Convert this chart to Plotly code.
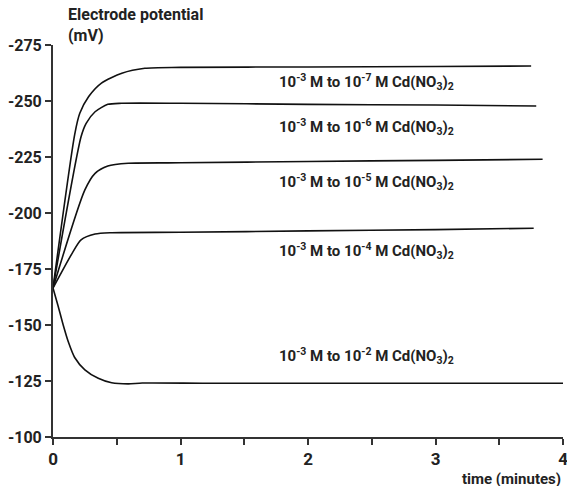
import plotly.graph_objects as go

# Data (time in minutes, potential in mV)
t_e7 = [0, 0.17, 0.21, 0.28, 0.38, 0.54, 0.72, 1.0, 2.0, 3.0, 3.75]
v_e7 = [-166.5, -235, -244.5, -252, -258, -262.4, -264.6, -265, -265.2, -265.4, -265.6]

t_e6 = [0, 0.22, 0.26, 0.33, 0.43, 0.54, 1.0, 2.0, 3.0, 3.79]
v_e6 = [-166.5, -234, -240, -245.2, -248.5, -249, -249, -248.5, -248.2, -247.8]

t_e5 = [0, 0.25, 0.33, 0.43, 0.59, 1.0, 2.0, 3.0, 3.84]
v_e5 = [-166.5, -210.3, -217.7, -221, -222.2, -222.4, -223, -223.5, -224]

t_e4 = [0, 0.15, 0.22, 0.33, 0.46, 1.0, 2.0, 3.0, 3.77]
v_e4 = [-166.5, -182, -188, -190.6, -191.2, -191.4, -192, -192.6, -193.2]

t_e2 = [0, 0.04, 0.08, 0.12, 0.17, 0.25, 0.355, 0.46, 0.59, 0.70, 1.2, 2.0, 3.0, 4.0]
v_e2 = [-166.5, -158.5, -150, -142.5, -135.5, -130, -126.2, -124.2, -123.7, -124.1, -124, -124, -124, -124]

labels = [
    "10<sup>-3</sup> M to 10<sup>-7</sup> M Cd(NO<sub>3</sub>)<sub>2</sub>",
    "10<sup>-3</sup> M to 10<sup>-6</sup> M Cd(NO<sub>3</sub>)<sub>2</sub>",
    "10<sup>-3</sup> M to 10<sup>-5</sup> M Cd(NO<sub>3</sub>)<sub>2</sub>",
    "10<sup>-3</sup> M to 10<sup>-4</sup> M Cd(NO<sub>3</sub>)<sub>2</sub>",
    "10<sup>-3</sup> M to 10<sup>-2</sup> M Cd(NO<sub>3</sub>)<sub>2</sub>",
]
label_x = [1.76, 1.76, 1.76, 1.76, 1.76]
label_y = [-258.5, -238.5, -213.8, -183, -136]

x_tickvals = [0, 0.5, 1, 1.5, 2, 2.5, 3, 3.5, 4]
x_ticktext = ["0", "", "1", "", "2", "", "3", "", "4"]
y_tickvals = [-100, -125, -150, -175, -200, -225, -250, -275]

FONT = "Roboto, Arial, sans-serif"
TXT = "#222222"

fig = go.Figure()
for tx, vy in [(t_e7, v_e7), (t_e6, v_e6), (t_e5, v_e5), (t_e4, v_e4), (t_e2, v_e2)]:
    fig.add_trace(go.Scatter(x=tx, y=vy, mode="lines",
                             line=dict(color="#111111", width=1.6, shape="spline", smoothing=0.7),
                             showlegend=False, hoverinfo="skip"))

for txt, lx, ly in zip(labels, label_x, label_y):
    fig.add_annotation(x=lx, y=ly, xref="x", yref="y", text="<b>" + txt + "</b>",
                       showarrow=False, xanchor="left", yanchor="middle",
                       font=dict(family=FONT, size=15, color=TXT))

fig.add_annotation(x=0.026, y=1, xref="paper", yref="paper", yshift=42,
                   text="<b>Electrode potential<br>(mV)</b>",
                   showarrow=False, xanchor="left", yanchor="top", align="left",
                   font=dict(family=FONT, size=16, color=TXT))
fig.add_annotation(x=1, y=0, xref="paper", yref="paper", text="<b>time (minutes)</b>",
                   showarrow=False, xanchor="right", yanchor="top", yshift=-31,
                   font=dict(family=FONT, size=15, color=TXT))

fig.update_layout(
    width=567, height=486,
    margin=dict(l=53, r=4, t=45, b=49, autoexpand=False),
    paper_bgcolor="white", plot_bgcolor="white",
    font=dict(family=FONT, size=16, color=TXT),
)
fig.update_xaxes(range=[0, 4], tickvals=x_tickvals,
                 ticktext=["<b>" + s + "</b>" if s else "" for s in x_ticktext],
                 ticklabeloverflow="allow", automargin=False,
                 showgrid=False, zeroline=False, showline=True, linecolor="#333333", linewidth=2,
                 ticks="outside", ticklen=6, tickwidth=2, tickcolor="#333333",
                 tickfont=dict(family=FONT, size=17, color=TXT))
fig.update_yaxes(range=[-100, -275], tickvals=y_tickvals,
                 ticktext=["<b>" + str(v) + "</b>" for v in y_tickvals],
                 automargin=False,
                 showgrid=False, zeroline=False, showline=True, linecolor="#333333", linewidth=2,
                 ticks="outside", ticklen=6, tickwidth=2, tickcolor="#333333",
                 tickfont=dict(family=FONT, size=16, color=TXT))

fig.write_html("out.html")
